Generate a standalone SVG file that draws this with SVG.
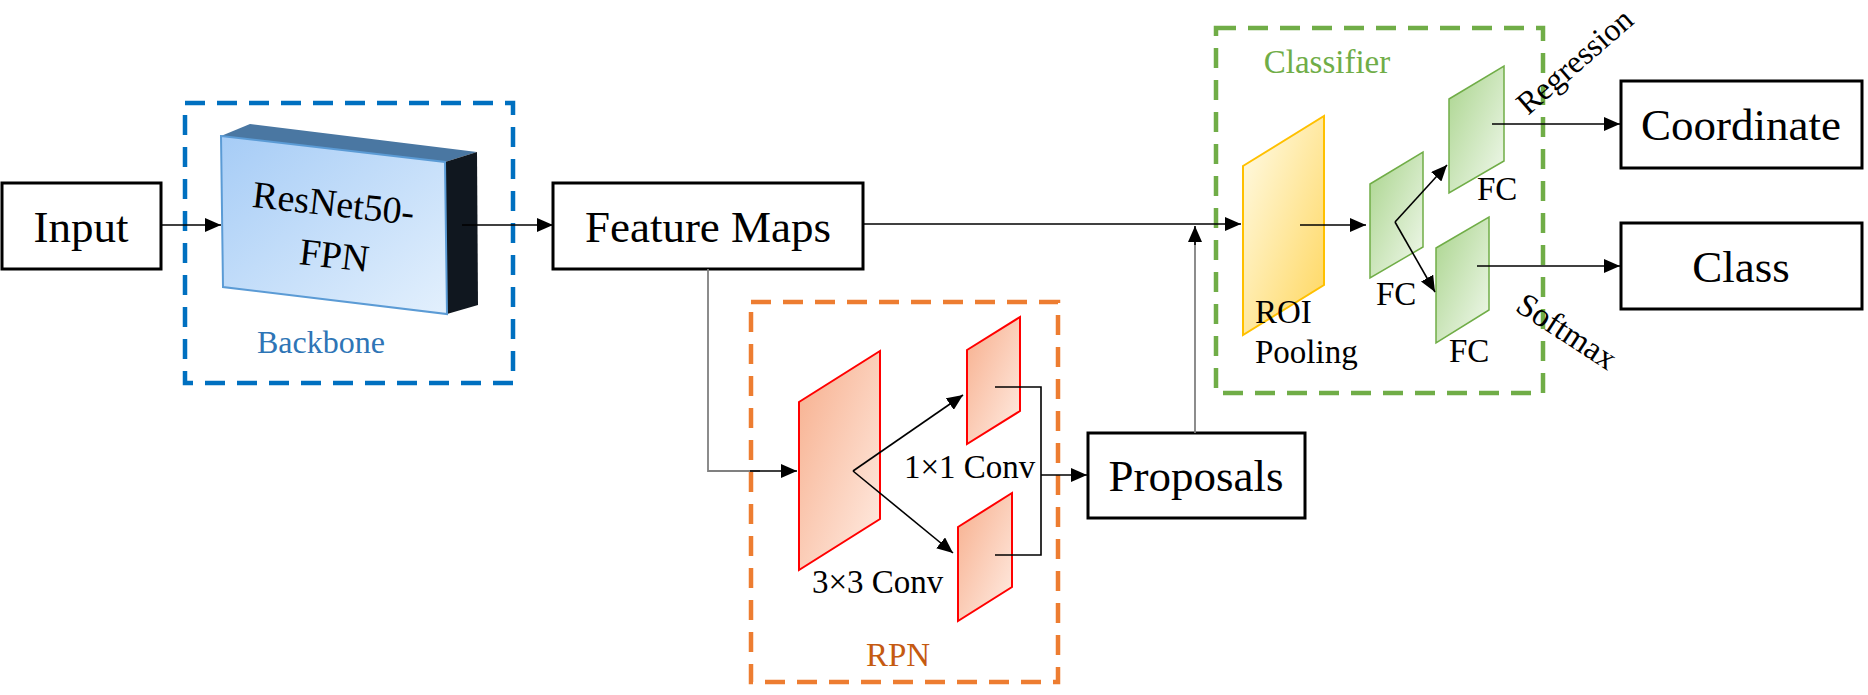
<svg xmlns="http://www.w3.org/2000/svg" width="1868" height="695" viewBox="0 0 1868 695">
<defs>
<style>
.box{fill:#fff;stroke:#000;stroke-width:3}
.t{font-family:"Liberation Serif","Times New Roman",serif;fill:#000}
.big{font-size:45px}
.sm{font-size:33px}
.ln{fill:none;stroke:#000;stroke-width:1.6}
.gl{fill:none;stroke:#808080;stroke-width:1.8}
.dash{fill:none;stroke-width:4.5;stroke-dasharray:20 12}
.red{fill:url(#gRed);stroke:#FF0000;stroke-width:2}
.grn{fill:url(#gGrn);stroke:#70AD47;stroke-width:1.5}
</style>
<linearGradient id="gRed" x1="0" y1="0" x2="1" y2="1">
<stop offset="0" stop-color="#F7AE8C"/><stop offset="1" stop-color="#FFEDE4"/>
</linearGradient>
<linearGradient id="gGrn" x1="0" y1="0" x2="1" y2="1">
<stop offset="0" stop-color="#A9D48C"/><stop offset="1" stop-color="#F2F9EE"/>
</linearGradient>
<linearGradient id="gYel" x1="0" y1="0" x2="1" y2="1">
<stop offset="0" stop-color="#FFFCEA"/><stop offset="1" stop-color="#FFD65C"/>
</linearGradient>
<linearGradient id="gBlue" x1="0" y1="0" x2="1" y2="1">
<stop offset="0" stop-color="#A6CCF6"/><stop offset="1" stop-color="#E3F0FD"/>
</linearGradient>
<marker id="ah" viewBox="0 0 16 14" refX="16" refY="7" markerWidth="16" markerHeight="14" markerUnits="userSpaceOnUse" orient="auto">
<path d="M0,0 L16,7 L0,14 Z" fill="#000"/>
</marker>
</defs>

<g id="backbone-group">
<rect class="dash" x="185" y="103" width="328" height="280" stroke="#0070C0"/>
<text class="t" x="321" y="353" font-size="32" text-anchor="middle" style="fill:#2E75B6">Backbone</text>
</g>

<g id="resnet">
<polygon points="221,136 250,124 477,152 445,162" fill="#4A77A2"/>
<polygon points="445,162 477,152 478,305 447,314" fill="#10171F"/>
<polygon points="221,136 445,162 447,314 223,287" fill="url(#gBlue)" stroke="#5B9BD5" stroke-width="2"/>
<text class="t" font-size="38" text-anchor="middle" transform="translate(332,216) rotate(6.5)">ResNet50-</text>
<text class="t" font-size="38" text-anchor="middle" transform="translate(333,268) rotate(6.5)">FPN</text>
</g>

<g id="input">
<rect class="box" x="2" y="183" width="159" height="86"/>
<text class="t big" x="81" y="242" text-anchor="middle">Input</text>
</g>

<g id="feature-maps">
<rect class="box" x="553" y="183" width="310" height="86"/>
<text class="t big" x="708" y="242" text-anchor="middle">Feature Maps</text>
</g>

<g id="rpn">
<rect class="dash" x="751" y="302" width="307" height="380" stroke="#ED7D31"/>
<polygon class="red" points="799,402 880,351 880,519 799,570"/>
<polygon class="red" points="967,350 1020,317 1020,411 967,444"/>
<polygon class="red" points="958,527 1012,493 1012,587 958,621"/>
<text class="t sm" x="904" y="478">1×1 Conv</text>
<text class="t sm" x="812" y="593">3×3 Conv</text>
<text class="t sm" x="898" y="666" text-anchor="middle" style="fill:#C55A11">RPN</text>
</g>

<g id="proposals">
<rect class="box" x="1088" y="433" width="217" height="85"/>
<text class="t big" x="1196" y="491" text-anchor="middle">Proposals</text>
</g>

<g id="classifier">
<rect class="dash" x="1216" y="28" width="327" height="365" stroke="#70AD47"/>
<text class="t sm" x="1327" y="73" text-anchor="middle" style="fill:#70AD47">Classifier</text>
<polygon points="1243,166 1324,116 1324,285 1243,335" fill="url(#gYel)" stroke="#FFC000" stroke-width="2"/>
<polygon class="grn" points="1370,184 1423,152 1423,247 1370,278"/>
<polygon class="grn" points="1449,99 1504,66 1504,161 1449,193"/>
<polygon class="grn" points="1436,248 1489,217 1489,310 1436,343"/>
<text class="t sm" x="1255" y="323">ROI</text>
<text class="t sm" x="1255" y="363">Pooling</text>
<text class="t sm" x="1477" y="200">FC</text>
<text class="t sm" x="1376" y="305">FC</text>
<text class="t sm" x="1449" y="362">FC</text>
</g>

<g id="coordinate">
<rect class="box" x="1621" y="81" width="241" height="87"/>
<text class="t big" x="1741" y="140" text-anchor="middle">Coordinate</text>
</g>

<g id="class">
<rect class="box" x="1621" y="223" width="241" height="86"/>
<text class="t big" x="1741" y="282" text-anchor="middle">Class</text>
</g>

<g id="edge-labels">
<text class="t" font-size="32" transform="translate(1528,116) rotate(-41)">Regression</text>
<text class="t sm" transform="translate(1514,310) rotate(33)">Softmax</text>
</g>

<g id="connectors">
<line class="ln" x1="161" y1="225" x2="221" y2="225" marker-end="url(#ah)"/>
<line class="ln" x1="462" y1="225" x2="553" y2="225" marker-end="url(#ah)"/>
<line class="ln" x1="863" y1="224" x2="1241" y2="224" marker-end="url(#ah)"/>
<polyline class="gl" points="708,269 708,471 760,471"/>
<line class="ln" x1="750" y1="471" x2="797" y2="471" marker-end="url(#ah)"/>
<line class="ln" x1="853" y1="471" x2="963" y2="395" marker-end="url(#ah)"/>
<line class="ln" x1="853" y1="471" x2="953" y2="553" marker-end="url(#ah)"/>
<polyline class="ln" points="995,387 1041,387 1041,555 995,555"/>
<line class="ln" x1="1041" y1="475" x2="1087" y2="475" marker-end="url(#ah)"/>
<line class="gl" x1="1195" y1="433" x2="1195" y2="240"/>
<line class="ln" x1="1195" y1="245" x2="1195" y2="226" marker-end="url(#ah)"/>
<line class="ln" x1="1300" y1="225" x2="1366" y2="225" marker-end="url(#ah)"/>
<line class="ln" x1="1395" y1="222" x2="1447" y2="165" marker-end="url(#ah)"/>
<line class="ln" x1="1395" y1="222" x2="1435" y2="292" marker-end="url(#ah)"/>
<line class="ln" x1="1492" y1="124" x2="1620" y2="124" marker-end="url(#ah)"/>
<line class="ln" x1="1477" y1="266" x2="1620" y2="266" marker-end="url(#ah)"/>
</g>
</svg>
